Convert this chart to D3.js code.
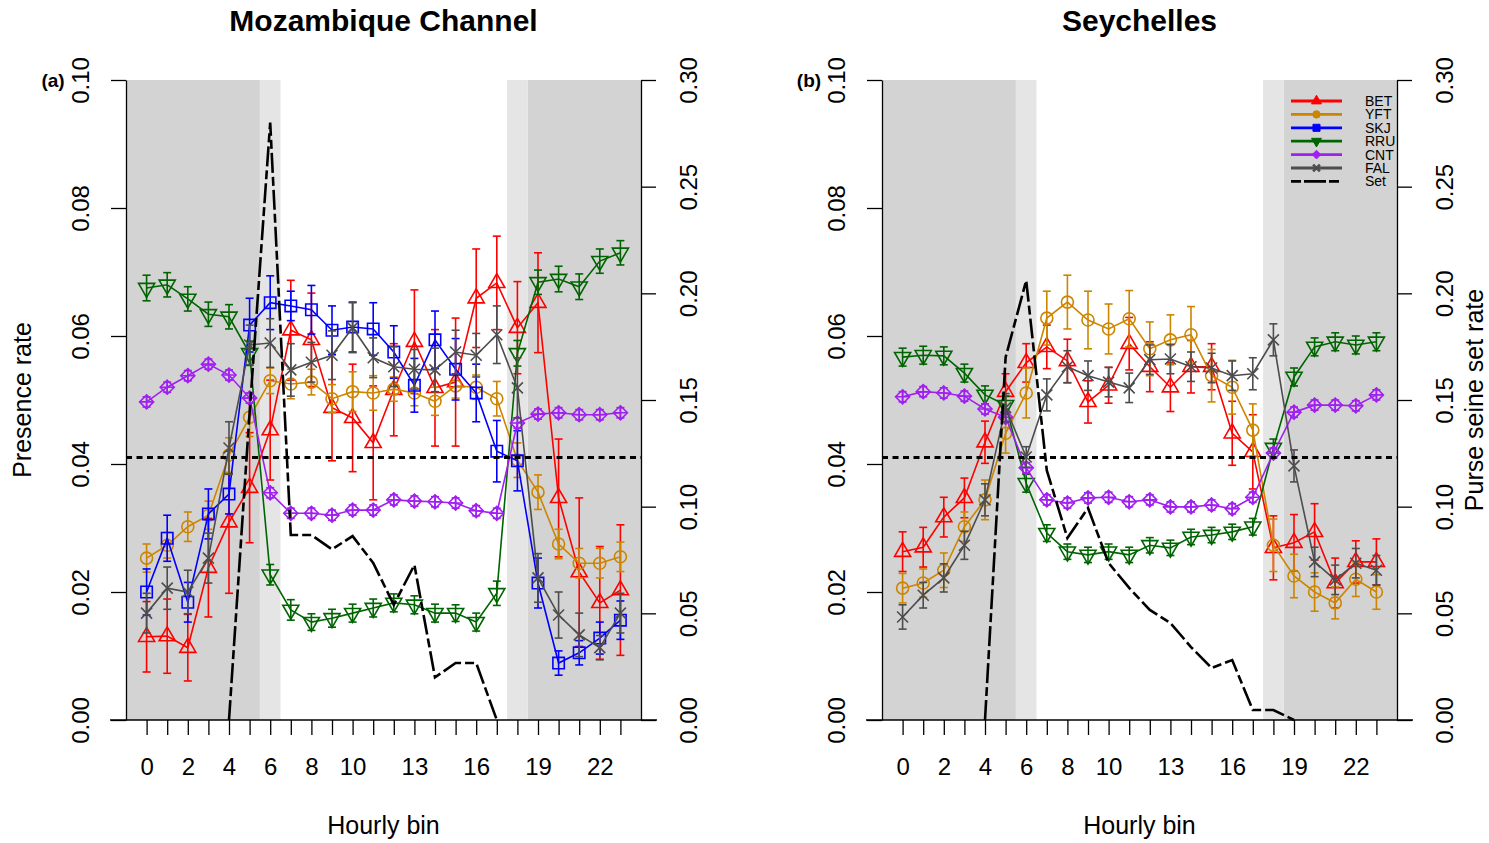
<!DOCTYPE html>
<html>
<head>
<meta charset="utf-8">
<script src="https://cdn.jsdelivr.net/npm/d3@7"></script>
<style>
  body { margin: 0; background: #fff; }
  svg { display: block; }
  text { font-family: "Liberation Sans", Arial, Helvetica, sans-serif; }
</style>
</head>
<body>
<svg id="chart" width="1489" height="843"></svg>
<script>
// ---- data ----
const hours = [0,1,2,3,4,5,6,7,8,9,10,11,12,13,14,15,16,17,18,19,20,21,22,23];
const hourLabels = [0,2,4,6,8,10,13,16,19,22];
const presenceTicks = [0,0.02,0.04,0.06,0.08,0.10];
const setRateTicks = [0,0.05,0.10,0.15,0.20,0.25,0.30];
const nightBands = [[-1,5.5],[18.5,24]];
const twilightBands = [[5.5,6.5],[17.5,18.5]];
const meanPresence = 0.041;
const panelTitles = ['Mozambique Channel','Seychelles'];
const panelTags = ['(a)','(b)'];
const species = ['BET','YFT','SKJ','RRU','CNT','FAL'];

// Mozambique Channel
const betMoz   = [0.0130,0.0131,0.0113,0.0238,0.0309,0.0363,0.0453,0.0609,0.0594,0.0488,0.0472,0.0433,0.0516,0.0591,0.0519,0.0528,0.0659,0.0683,0.0613,0.0652,0.0347,0.0231,0.0183,0.0203];
const betMozSe = [0.0055,0.0058,0.0052,0.0077,0.0111,0.0086,0.0078,0.0078,0.0073,0.0083,0.0084,0.0089,0.0072,0.0081,0.0091,0.0100,0.0077,0.0073,0.0072,0.0078,0.0092,0.0116,0.0088,0.0102];
const yftMoz   = [0.0253,0.0273,0.0302,0.0320,0.0414,0.0473,0.0530,0.0525,0.0528,0.0502,0.0513,0.0511,0.0517,0.0511,0.0498,0.0522,0.0520,0.0502,0.0406,0.0356,0.0275,0.0245,0.0245,0.0255];
const yftMozSe = [0.0022,0.0020,0.0023,0.0022,0.0027,0.0030,0.0020,0.0023,0.0020,0.0022,0.0031,0.0027,0.0019,0.0020,0.0022,0.0019,0.0019,0.0027,0.0027,0.0027,0.0023,0.0023,0.0023,0.0023];
const skjMoz   = [0.0200,0.0284,0.0184,0.0322,0.0353,0.0617,0.0652,0.0647,0.0641,0.0609,0.0614,0.0611,0.0575,0.0523,0.0594,0.0548,0.0511,0.0420,0.0405,0.0214,0.0089,0.0105,0.0128,0.0156];
const skjMozSe = [0.0036,0.0036,0.0031,0.0039,0.0031,0.0042,0.0042,0.0023,0.0038,0.0038,0.0039,0.0041,0.0041,0.0042,0.0045,0.0048,0.0045,0.0048,0.0047,0.0039,0.0019,0.0019,0.0025,0.0030];
const rruMoz   = [0.0675,0.0680,0.0658,0.0634,0.0630,0.0573,0.0227,0.0172,0.0153,0.0159,0.0167,0.0175,0.0183,0.0180,0.0167,0.0167,0.0153,0.0198,0.0573,0.0684,0.0689,0.0677,0.0717,0.0730];
const rruMozSe = [0.0020,0.0019,0.0019,0.0019,0.0019,0.0019,0.0016,0.0016,0.0013,0.0014,0.0014,0.0014,0.0014,0.0014,0.0014,0.0013,0.0014,0.0019,0.0020,0.0019,0.0020,0.0020,0.0019,0.0019];
const cntMoz   = [0.0497,0.0520,0.0538,0.0556,0.0539,0.0503,0.0355,0.0323,0.0323,0.0320,0.0328,0.0328,0.0344,0.0342,0.0341,0.0339,0.0327,0.0323,0.0464,0.0478,0.0480,0.0477,0.0477,0.0480];
const cntMozSe = [0.0008,0.0008,0.0008,0.0008,0.0008,0.0008,0.0008,0.0008,0.0008,0.0008,0.0008,0.0008,0.0008,0.0008,0.0008,0.0008,0.0008,0.0008,0.0008,0.0008,0.0008,0.0008,0.0008,0.0008];
const falMoz   = [0.0167,0.0206,0.0200,0.0253,0.0425,0.0586,0.0589,0.0547,0.0559,0.0570,0.0613,0.0566,0.0552,0.0548,0.0547,0.0575,0.0570,0.0602,0.0519,0.0222,0.0164,0.0133,0.0113,0.0167];
const falMozSe = [0.0031,0.0033,0.0034,0.0039,0.0041,0.0031,0.0038,0.0041,0.0031,0.0038,0.0039,0.0031,0.0031,0.0031,0.0034,0.0034,0.0034,0.0045,0.0047,0.0038,0.0036,0.0034,0.0019,0.0031];
const setMoz   = [null,null,null,null,0,0.144,0.280,0.0867,0.0867,0.080,0.0862,0.0736,0.054,0.0727,0.020,0.0267,0.0267,0,null,null,null,null,null,null];

// Seychelles (no SKJ series drawn)
const betSey   = [0.0263,0.0270,0.0317,0.0347,0.0434,0.0513,0.0558,0.0583,0.0561,0.0497,0.0523,0.0588,0.0552,0.0520,0.0552,0.0552,0.0448,0.0419,0.0269,0.0277,0.0294,0.0214,0.0247,0.0247];
const betSeySe = [0.0031,0.0031,0.0031,0.0031,0.0033,0.0028,0.0030,0.0034,0.0034,0.0033,0.0028,0.0041,0.0039,0.0038,0.0041,0.0036,0.0050,0.0058,0.0050,0.0044,0.0044,0.0039,0.0033,0.0036];
const yftSey   = [0.0206,0.0214,0.0234,0.0302,0.0344,0.0448,0.0511,0.0628,0.0653,0.0625,0.0611,0.0627,0.0580,0.0594,0.0602,0.0538,0.0520,0.0453,0.0273,0.0225,0.0200,0.0183,0.0220,0.0200];
const yftSeySe = [0.0023,0.0022,0.0027,0.0023,0.0031,0.0031,0.0039,0.0042,0.0042,0.0045,0.0039,0.0044,0.0042,0.0039,0.0044,0.0041,0.0042,0.0041,0.0041,0.0034,0.0030,0.0025,0.0027,0.0027];
const rruSey   = [0.0567,0.0570,0.0569,0.0542,0.0508,0.0492,0.0370,0.0292,0.0263,0.0258,0.0263,0.0258,0.0273,0.0269,0.0286,0.0289,0.0294,0.0302,0.0425,0.0536,0.0583,0.0591,0.0586,0.0591];
const rruSeySe = [0.0014,0.0014,0.0014,0.0014,0.0014,0.0014,0.0014,0.0013,0.0012,0.0012,0.0012,0.0012,0.0012,0.0012,0.0012,0.0012,0.0012,0.0013,0.0014,0.0014,0.0014,0.0014,0.0014,0.0014];
const cntSey   = [0.0505,0.0513,0.0511,0.0506,0.0486,0.0473,0.0394,0.0344,0.0339,0.0347,0.0348,0.0341,0.0344,0.0333,0.0333,0.0336,0.0330,0.0348,0.0417,0.0481,0.0492,0.0492,0.0491,0.0508];
const cntSeySe = [0.0008,0.0008,0.0008,0.0008,0.0008,0.0008,0.0008,0.0008,0.0008,0.0008,0.0008,0.0008,0.0008,0.0008,0.0008,0.0008,0.0008,0.0008,0.0008,0.0008,0.0008,0.0008,0.0008,0.0008];
const falSey   = [0.0161,0.0195,0.0222,0.0273,0.0344,0.0488,0.0411,0.0508,0.0552,0.0538,0.0528,0.0519,0.0563,0.0564,0.0552,0.0550,0.0538,0.0541,0.0594,0.0397,0.0247,0.0219,0.0245,0.0234];
const falSeySe = [0.0019,0.0020,0.0022,0.0022,0.0025,0.0022,0.0016,0.0025,0.0025,0.0023,0.0023,0.0023,0.0023,0.0023,0.0023,0.0023,0.0023,0.0025,0.0025,0.0025,0.0023,0.0023,0.0023,0.0023];
const setSey   = [null,null,null,null,0,0.170,0.206,0.117,0.0853,0.0994,0.0736,0.0619,0.0516,0.0455,0.0342,0.0244,0.0281,0.0047,0.0047,0,null,null,null,null];

const panels = [
  { title: panelTitles[0], tag: panelTags[0], set: setMoz,
    series: { BET: [betMoz, betMozSe], YFT: [yftMoz, yftMozSe], SKJ: [skjMoz, skjMozSe],
              RRU: [rruMoz, rruMozSe], CNT: [cntMoz, cntMozSe], FAL: [falMoz, falMozSe] } },
  { title: panelTitles[1], tag: panelTags[1], set: setSey,
    series: { BET: [betSey, betSeySe], YFT: [yftSey, yftSeySe],
              RRU: [rruSey, rruSeySe], CNT: [cntSey, cntSeySe], FAL: [falSey, falSeySe] } }
];

// ---- styles / layout ----
const colors = { BET: '#ff0000', YFT: '#cd8500', SKJ: '#0000ff', RRU: '#006400', CNT: '#a020f0', FAL: '#4d4d4d' };
const plotLeft = [126, 882], plotW = 515, plotTop = 80, plotBottom = 720;
const setDash = '20,4,9,4';

const svg = d3.select('#chart');

// marker paths, centred at 0,0
function markerPath(sp, k) {
  k = k || 1;
  const p = d3.path();
  if (sp === 'BET' || sp === 'RRU') {
    const r = 9.3 * k, s = sp === 'BET' ? 1 : -1;
    p.moveTo(0, -r * s); p.lineTo(r * 0.866, r / 2 * s); p.lineTo(-r * 0.866, r / 2 * s); p.closePath();
  } else if (sp === 'YFT') {
    p.arc(0, 0, 6 * k, 0, 2 * Math.PI);
  } else if (sp === 'SKJ') {
    const h = 5.7 * k; p.rect(-h, -h, 2 * h, 2 * h);
  } else if (sp === 'CNT') {
    const h = 7 * k;
    p.moveTo(0, -h); p.lineTo(h, 0); p.lineTo(0, h); p.lineTo(-h, 0); p.closePath();
  } else if (sp === 'FAL') {
    const h = 5.5 * k;
    p.moveTo(-h, -h); p.lineTo(h, h); p.moveTo(h, -h); p.lineTo(-h, h);
  }
  return p.toString();
}

panels.forEach((panel, pi) => {
  const left = plotLeft[pi];
  const x = d3.scaleLinear().domain([-1, 24]).range([left, left + plotW]);
  const y = d3.scaleLinear().domain([0, 0.10]).range([plotBottom, plotTop]);
  const y2 = d3.scaleLinear().domain([0, 0.30]).range([plotBottom, plotTop]);
  const g = svg.append('g');

  // day/night shading
  g.selectAll('rect.night').data(nightBands).join('rect')
    .attr('x', d => x(d[0])).attr('width', d => x(d[1]) - x(d[0]))
    .attr('y', plotTop).attr('height', plotBottom - plotTop).attr('fill', '#d3d3d3');
  g.selectAll('rect.twi').data(twilightBands).join('rect')
    .attr('class', 'twi')
    .attr('x', d => x(d[0])).attr('width', d => x(d[1]) - x(d[0]))
    .attr('y', plotTop).attr('height', plotBottom - plotTop).attr('fill', '#e5e5e5');

  // species series
  species.forEach(sp => {
    if (!panel.series[sp]) return;
    const [vals, ses] = panel.series[sp];
    const pts = hours.map((h, i) => ({ h, v: vals[i], se: ses[i] }));
    const col = colors[sp];
    const sg = g.append('g').attr('stroke', col).attr('fill', 'none').attr('stroke-width', 1.6);

    const bars = sg.selectAll('g.eb').data(pts).join('g').attr('class', 'eb');
    bars.append('line')
      .attr('x1', d => x(d.h)).attr('x2', d => x(d.h))
      .attr('y1', d => y(d.v - d.se)).attr('y2', d => y(d.v + d.se));
    bars.append('line')
      .attr('x1', d => x(d.h) - 4).attr('x2', d => x(d.h) + 4)
      .attr('y1', d => y(d.v - d.se)).attr('y2', d => y(d.v - d.se));
    bars.append('line')
      .attr('x1', d => x(d.h) - 4).attr('x2', d => x(d.h) + 4)
      .attr('y1', d => y(d.v + d.se)).attr('y2', d => y(d.v + d.se));

    sg.append('path').datum(pts)
      .attr('d', d3.line().x(d => x(d.h)).y(d => y(d.v)));

    sg.selectAll('path.mk').data(pts).join('path')
      .attr('class', 'mk')
      .attr('transform', d => `translate(${x(d.h)},${y(d.v)})`)
      .attr('d', markerPath(sp));
    if (sp === 'CNT') {
      sg.selectAll('path.plus').data(pts).join('path')
        .attr('class', 'plus')
        .attr('transform', d => `translate(${x(d.h)},${y(d.v)})`)
        .attr('d', 'M-7,0H7M0,-7V7');
    }
  });

  // purse seine set rate
  g.append('path').datum(hours.map((h, i) => ({ h, v: panel.set[i] })))
    .attr('fill', 'none').attr('stroke', '#000').attr('stroke-width', 2.6)
    .attr('stroke-dasharray', setDash)
    .attr('d', d3.line().defined(d => d.v != null).x(d => x(d.h)).y(d => y2(d.v)));

  // mean presence reference line
  g.append('line')
    .attr('x1', x(-1)).attr('x2', x(24))
    .attr('y1', y(meanPresence)).attr('y2', y(meanPresence))
    .attr('stroke', '#000').attr('stroke-width', 3).attr('stroke-dasharray', '6,4.5');

  // axes
  const fmt = d3.format('.2f');
  const axL = g.append('g').attr('transform', `translate(${left},0)`)
    .call(d3.axisLeft(y).tickValues(presenceTicks).tickSize(15).tickSizeOuter(0).tickFormat(fmt));
  axL.selectAll('text').attr('x', null).attr('dy', null).attr('text-anchor', 'middle')
    .attr('transform', 'translate(-37,0) rotate(-90)');

  const axR = g.append('g').attr('transform', `translate(${left + plotW},0)`)
    .call(d3.axisRight(y2).tickValues(setRateTicks).tickSize(15).tickSizeOuter(0).tickFormat(fmt));
  axR.selectAll('text').attr('x', null).attr('dy', null).attr('text-anchor', 'middle')
    .attr('transform', 'translate(56,0) rotate(-90)');

  const axB = g.append('g').attr('transform', `translate(0,${plotBottom})`)
    .call(d3.axisBottom(x).tickValues(hours).tickSize(15)
      .tickFormat(d => hourLabels.includes(d) ? d : ''));
  axB.select('.domain').remove();
  axB.selectAll('text').attr('y', 55).attr('dy', null);
  g.append('line').attr('x1', x(-1) - 16).attr('x2', x(24) + 16)
    .attr('y1', plotBottom).attr('y2', plotBottom).attr('stroke', '#000').attr('stroke-width', 1.3);

  [axL, axR, axB].forEach(a => {
    a.attr('font-size', 24).attr('font-family', null);
    a.selectAll('line, path').attr('stroke-width', 1.3);
  });

  // titles
  g.append('text').attr('x', (x(-1) + x(24)) / 2).attr('y', 31)
    .attr('text-anchor', 'middle').attr('font-size', 30).attr('font-weight', 'bold').text(panel.title);
  g.append('text').attr('x', left - 73).attr('y', 87)
    .attr('text-anchor', 'middle').attr('font-size', 19).attr('font-weight', 'bold').text(panel.tag);
  g.append('text').attr('x', (x(-1) + x(24)) / 2).attr('y', 834)
    .attr('text-anchor', 'middle').attr('font-size', 25).text('Hourly bin');

  if (pi === 0) {
    g.append('text').attr('transform', `translate(31,400) rotate(-90)`)
      .attr('text-anchor', 'middle').attr('font-size', 25).text('Presence rate');
  }
  if (pi === 1) {
    g.append('text').attr('transform', `translate(1483,400) rotate(-90)`)
      .attr('text-anchor', 'middle').attr('font-size', 25).text('Purse seine set rate');

    // legend
    const legendItems = species.concat(['Set']);
    const lg = g.append('g');
    const rows = lg.selectAll('g').data(legendItems).join('g')
      .attr('transform', (d, i) => `translate(1291,${101 + i * 13.4})`);
    rows.append('line').attr('x1', 0).attr('x2', 51)
      .attr('stroke', d => d === 'Set' ? '#000' : colors[d])
      .attr('stroke-width', 2.8)
      .attr('stroke-dasharray', d => d === 'Set' ? '10,3,22,3' : null);
    rows.filter(d => d !== 'Set').append('path')
      .attr('transform', 'translate(25.5,0)')
      .attr('d', d => markerPath(d, 0.62))
      .attr('fill', d => d === 'FAL' ? 'none' : colors[d])
      .attr('stroke', d => colors[d]).attr('stroke-width', d => d === 'FAL' ? 2.6 : 1);
    rows.append('text').attr('x', 74).attr('y', 5)
      .attr('font-size', 14).text(d => d);
  }
});
</script>
</body>
</html>
